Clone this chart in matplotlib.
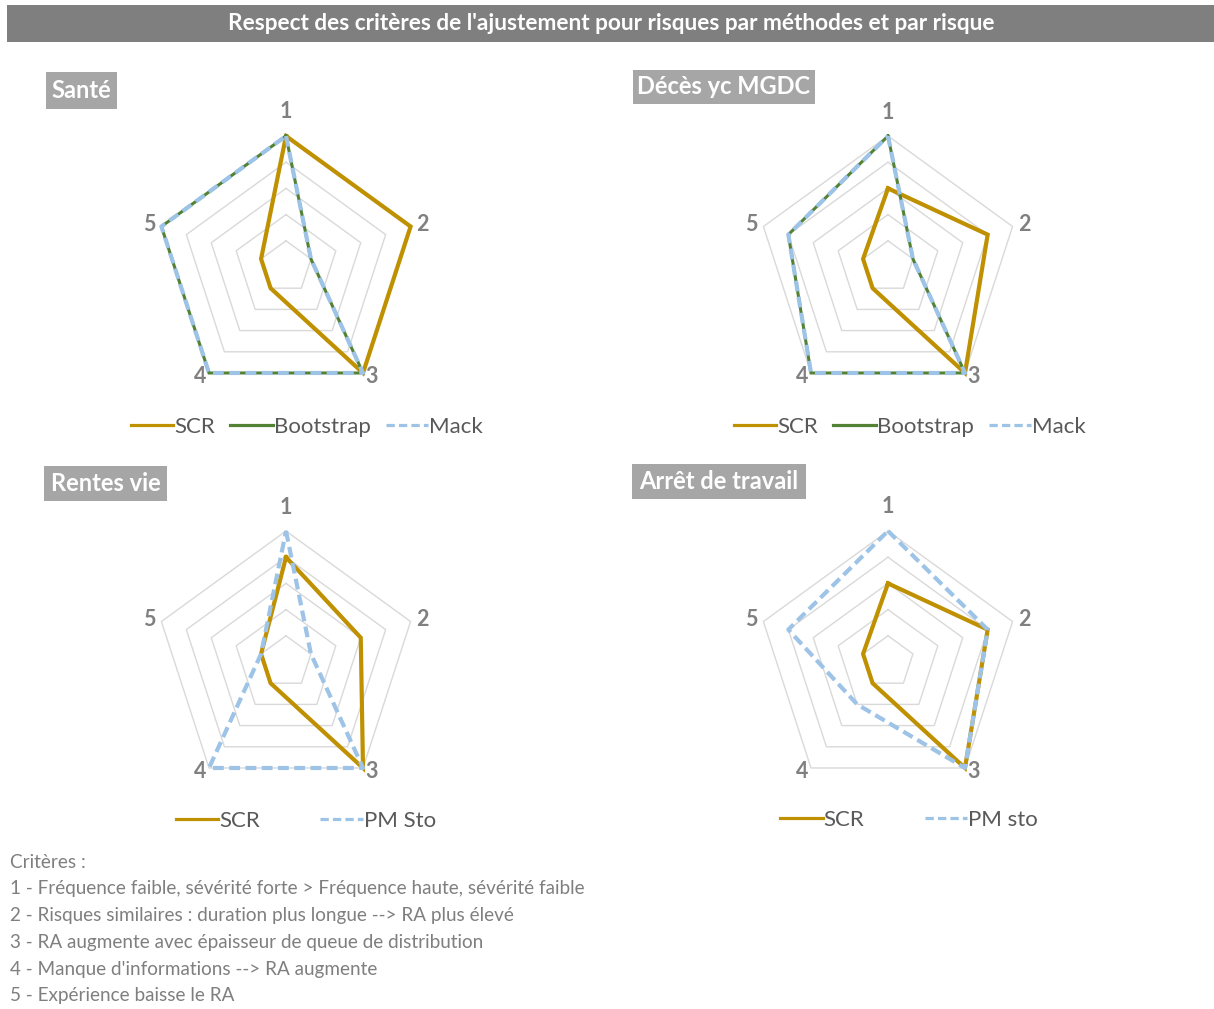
import numpy as np
import matplotlib
matplotlib.use("Agg")
import matplotlib.pyplot as plt
from matplotlib.patches import Rectangle
from matplotlib.lines import Line2D

plt.rcParams['font.family'] = ['Lato', 'DejaVu Sans']

# ---- data ----
criteria = ["1", "2", "3", "4", "5"]

sante_scr = [5, 5, 5, 1, 1]
sante_bootstrap = [5, 1, 5, 5, 5]
sante_mack = [5, 1, 5, 5, 5]

deces_scr = [3, 4, 5, 1, 1]
deces_bootstrap = [5, 1, 5, 5, 4]
deces_mack = [5, 1, 5, 5, 4]

rentes_scr = [4, 3, 5, 1, 1]
rentes_pm_sto = [5, 1, 5, 5, 1]

arret_scr = [3, 4, 5, 1, 1]
arret_pm_sto = [5, 4, 5, 2, 4]

panel_titles = ["Santé", "Décès yc MGDC", "Rentes vie", "Arrêt de travail"]
main_title = "Respect des critères de l'ajustement pour risques par méthodes et par risque"
footer_lines = [
    "Critères :",
    "1 - Fréquence faible, sévérité forte > Fréquence haute, sévérité faible",
    "2 - Risques similaires : duration plus longue --> RA plus élevé",
    "3 - RA augmente avec épaisseur de queue de distribution",
    "4 - Manque d'informations --> RA augmente",
    "5 - Expérience baisse le RA",
]

# ---- styles ----
GOLD = "#BF9000"
GREEN = "#548235"
BLUE = "#9DC3E6"
GRID = "#D9D9D9"
LABEL = "#808080"

W, H = 1214, 1009
fig = plt.figure(figsize=(W / 100, H / 100), dpi=100)


def fx(px):
    return px / W


def fy(py):
    return 1 - py / H


# title bar
fig.patches.append(Rectangle((fx(7), fy(42)), fx(1214) - fx(7), fy(5) - fy(42),
                             transform=fig.transFigure, facecolor="#7F7F7F",
                             edgecolor="none", zorder=0))
fig.text(fx(611), fy(24), main_title, color="white", fontsize=16.3,
         fontweight="bold", ha="center", va="center")

DASH = (0, (2.6, 1.3))
styles = {
    "SCR": dict(color=GOLD, lw=3.0, ls="-"),
    "Bootstrap": dict(color=GREEN, lw=2.2, ls="-"),
    "Mack": dict(color=BLUE, lw=3.0, ls=DASH),
    "PM Sto": dict(color=BLUE, lw=3.0, ls=DASH),
    "PM sto": dict(color=BLUE, lw=3.0, ls=DASH),
}

panels = [
    dict(title=panel_titles[0], center=(286, 267), box=(46, 72, 117, 109),
         series=[("SCR", sante_scr), ("Bootstrap", sante_bootstrap), ("Mack", sante_mack)],
         legend=(307, 427), colsp=0.7),
    dict(title=panel_titles[1], center=(888, 267), box=(633, 70, 815, 104),
         series=[("SCR", deces_scr), ("Bootstrap", deces_bootstrap), ("Mack", deces_mack)],
         legend=(910, 427), colsp=0.7),
    dict(title=panel_titles[2], center=(286, 662), box=(44, 466, 167, 501),
         series=[("SCR", rentes_scr), ("PM Sto", rentes_pm_sto)],
         legend=(306, 821), colsp=2.7),
    dict(title=panel_titles[3], center=(888, 662), box=(632, 464, 806, 499),
         series=[("SCR", arret_scr), ("PM sto", arret_pm_sto)],
         legend=(909, 820), colsp=2.7),
]

# pixel offsets of the criterion labels from their outer vertex
label_offsets = [(0, 24), (12, 2), (9, -4), (-9, -4), (-12, 2)]

R = 131
n = len(criteria)
theta = np.linspace(0, 2 * np.pi, n, endpoint=False)
theta_closed = np.append(theta, theta[0])

for p in panels:
    cx, cy = p["center"]
    ax = fig.add_axes([fx(cx - R), fy(cy + R), 2 * R / W, 2 * R / H],
                      projection="polar")
    ax.set_theta_zero_location("N")
    ax.set_theta_direction(-1)
    ax.set_ylim(0, 5)
    ax.set_frame_on(False)
    ax.grid(False)
    ax.set_yticks([])
    ax.set_xticks([])
    ax.patch.set_alpha(0)

    # pentagon grid rings
    for r in range(1, 6):
        ax.plot(theta_closed, [r] * (n + 1), color=GRID, lw=1.0, zorder=1,
                clip_on=False)

    # criterion labels
    for t, lab, off in zip(theta, criteria, label_offsets):
        ax.annotate(lab, xy=(t, 5), xytext=off, textcoords="offset pixels",
                    color=LABEL, fontsize=15.5, fontweight="bold",
                    ha="center", va="center", annotation_clip=False)

    handles = []
    for z, (name, vals) in enumerate(p["series"]):
        st = styles[name]
        v = list(vals) + [vals[0]]
        ax.plot(theta_closed, v, color=st["color"], lw=st["lw"], ls=st["ls"],
                zorder=3 + z, clip_on=False, solid_joinstyle="miter")
        handles.append(Line2D([], [], color=st["color"], lw=2.3, ls=st["ls"],
                              label=name))

    lx, ly = p["legend"]
    fig.legend(handles=handles, loc="center", bbox_to_anchor=(fx(lx), fy(ly)),
               ncol=len(handles), frameon=False, fontsize=16,
               handlelength=1.9, handletextpad=0.05, columnspacing=p["colsp"],
               labelcolor="#595959", borderaxespad=0, borderpad=0)

    x0, y0, x1, y1 = p["box"]
    fig.patches.append(Rectangle((fx(x0), fy(y1)), fx(x1) - fx(x0), fy(y0) - fy(y1),
                                 transform=fig.transFigure, facecolor="#A6A6A6",
                                 edgecolor="none", zorder=0))
    fig.text(fx((x0 + x1) / 2), fy((y0 + y1) / 2), p["title"], color="white",
             fontsize=17, fontweight="bold", ha="center", va="center")

# criteria description
for i, line in enumerate(footer_lines):
    fig.text(fx(10), fy(862 + i * 26.8), line, color="#7F7F7F", fontsize=13.6,
             ha="left", va="center")

fig.savefig("out.png", dpi=100, facecolor="white")
